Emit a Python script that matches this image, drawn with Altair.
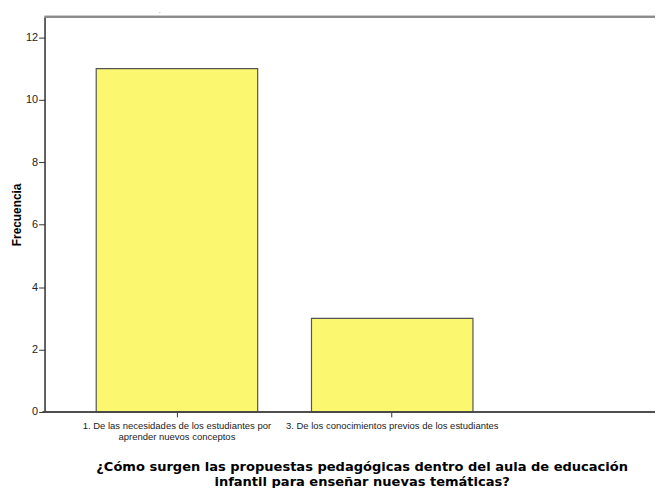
import altair as alt
import pandas as pd

categories = [
    "1. De las necesidades de los estudiantes  por\naprender nuevos conceptos",
    "3. De los conocimientos previos de los estudiantes",
]
frecuencias = [11, 3]
y_ticks = [0, 2, 4, 6, 8, 10, 12]
x_title = [
    "¿Cómo surgen las propuestas pedagógicas dentro del aula de educación",
    "infantil  para enseñar nuevas temáticas?",
]
y_title = "Frecuencia"

df = pd.DataFrame({"cat": categories, "freq": frecuencias})

PLOT_W = 618
PLOT_H = 400

bars = alt.Chart(df).mark_bar(
    color="#FBF86F", stroke="#555555", strokeWidth=1.2
).encode(
    x=alt.X(
        "cat:N",
        sort=categories,
        scale=alt.Scale(range=[0, 486], paddingInner=0.25, paddingOuter=0.24),
        axis=alt.Axis(
            title=x_title,
            labelAngle=0,
            labelExpr="split(datum.label, '\\n')",
            labelFont="Liberation Sans Narrow, Liberation Sans",
            labelFontSize=9.6,
            labelLimit=400,
            labelColor="#222222",
            labelLineHeight=11,
            labelPadding=4,
            tickSize=5,
            tickColor="#333333",
            domain=False,
            titleFont="DejaVu Sans",
            titleFontWeight="bold",
            titleFontSize=13.2,
            titleColor="#000000",
            titleLineHeight=15,
            titleX=321,
            titleY=49,
            titleBaseline="top",
        ),
    ),
    y=alt.Y(
        "freq:Q",
        scale=alt.Scale(domain=[0, 12.66], nice=False),
        axis=alt.Axis(
            title=y_title,
            values=y_ticks,
            grid=False,
            labelFont="Liberation Sans",
            labelFontSize=11,
            labelColor="#222222",
            labelPadding=1,
            tickSize=6,
            tickColor="#333333",
            domainColor="#333333",
            domainWidth=1.5,
            titleFont="Liberation Sans",
            titleFontWeight="bold",
            titleFontSize=12,
            titleColor="#000000",
            titleX=-28,
            titleY=200,
            titleAngle=270,
            titleBaseline="middle",
            titleAlign="center",
        ),
    ),
)

top_line = alt.Chart(df).mark_rule(color="#8a8a8a", strokeWidth=2).encode(
    y=alt.value(0), x=alt.value(0), x2=alt.value(PLOT_W)
)
bottom_line = alt.Chart(df).mark_rule(color="#444444", strokeWidth=1.5).encode(
    y=alt.value(PLOT_H), x=alt.value(-2), x2=alt.value(PLOT_W)
)

chart = alt.layer(bars, top_line, bottom_line).properties(
    width=PLOT_W,
    height=PLOT_H,
    title=alt.TitleParams(
        ".", anchor="start", dx=150, offset=2, fontSize=4, font="Liberation Sans"
    ),
    autosize=alt.AutoSizeParams(type="none"),
    padding={"left": 37, "top": 6, "right": 0, "bottom": 74},
).configure_view(stroke=None).configure(background="white")

chart.save("out.html", embed_options={"renderer": "svg", "actions": False})
